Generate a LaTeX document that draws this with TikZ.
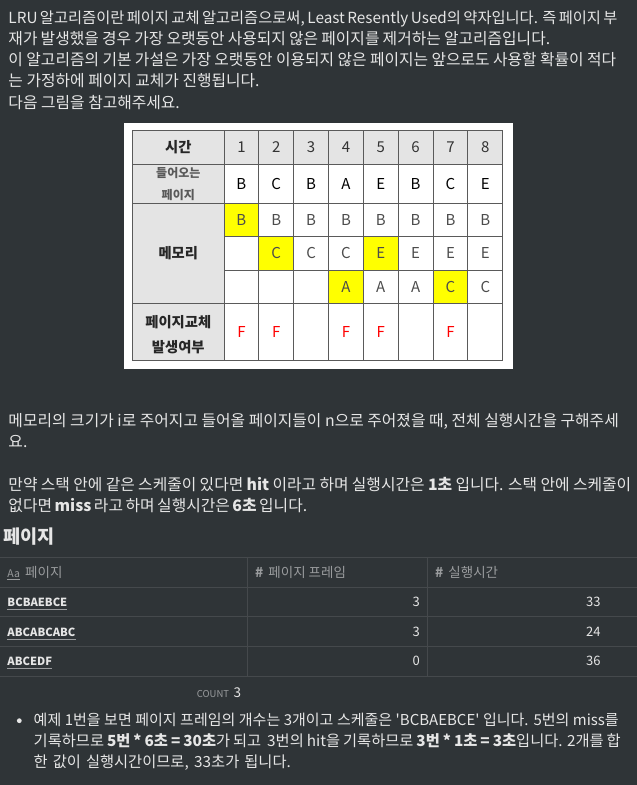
\documentclass[tikz,border=0pt]{standalone}
\usepackage{fontspec}
\setmainfont{Noto Sans CJK KR}
\usepackage{tikz}
\usetikzlibrary{positioning}
\usepackage{xcolor}
\definecolor{pagebg}{HTML}{2F3437}
\definecolor{bodytext}{HTML}{E6E6E6}
\definecolor{dimtext}{HTML}{9A9C9E}
\definecolor{rulegray}{HTML}{45494C}
\definecolor{cellgray}{HTML}{E4E4E4}
\definecolor{hiyellow}{HTML}{FFFF00}
\definecolor{gridgray}{HTML}{5A5A5A}
% one wrapped line of body text, spread to the width it has on screen
\newcommand{\fitline}[2]{\makebox[#1pt][s]{#2}}

\begin{document}
\begin{tikzpicture}[x=1pt, y=-1pt,
    para/.style={anchor=base west, align=left, inner sep=0pt, text=bodytext, font=\fontsize{15.8}{21.25}\selectfont},
    heading/.style={anchor=base west, inner sep=0pt, text=bodytext, font=\fontsize{18.6}{20}\selectfont\bfseries},
    colhead/.style={anchor=base west, inner sep=0pt, text=dimtext, font=\fontsize{13.5}{14}\selectfont},
    pagename/.style={anchor=base west, inner sep=0pt, text=bodytext, font=\fontsize{11.2}{14}\selectfont\bfseries},
    numval/.style={anchor=base east, inner sep=0pt, text=bodytext, font=\fontsize{13}{14}\selectfont},
    rowline/.style={draw=rulegray, line width=1pt},
    namerule/.style={draw=dimtext, line width=0.8pt},
    gridline/.style={draw=gridgray, line width=1pt},
    lbl/.style={inner sep=0pt, align=center, text=black!85, font=\fontsize{14.3}{25}\selectfont\bfseries},
    smalllbl/.style={inner sep=0pt, align=center, text=black!65, font=\fontsize{12}{22.5}\selectfont\bfseries},
    tnum/.style={inner sep=0pt, text=black!80, font=\fontsize{15}{16}\selectfont},
    inpage/.style={inner sep=0pt, text=black, font=\fontsize{15}{16}\selectfont},
    mempage/.style={inner sep=0pt, text=black!70, font=\fontsize{15}{16}\selectfont},
    fault/.style={inner sep=0pt, text=red, font=\fontsize{15}{16}\selectfont}]

\useasboundingbox[fill=pagebg] (0,0) rectangle (637,785);

% intro text (base anchor = last line)
\node[para] (intro) at (8.3,108) {\fitline{609}{\fontsize{15.3}{21.25}\selectfont LRU 알고리즘이란 페이지 교체 알고리즘으로써, Least Resently Used의 약자입니다. 즉 페이지 부}\\
\fitline{541.7}{재가 발생했을 경우 가장 오랫동안 사용되지 않은 페이지를 제거하는 알고리즘입니다.}\\
\fitline{607.7}{이 알고리즘의 기본 가설은 가장 오랫동안 이용되지 않은 페이지는 앞으로도 사용할 확률이 적다}\\
는 가정하에 페이지 교체가 진행됩니다.\\
다음 그림을 참고해주세요.};

% LRU picture
\fill[white] (124,123) rectangle (512.7,369.3);
\fill[cellgray] (132.7,130) rectangle (502.7,164);
\fill[cellgray] (132.7,164) rectangle (224,360.7);
\foreach \c/\r in {1/1, 2/2, 4/3, 5/2, 7/3}
    \fill[hiyellow] ({224+34.84*(\c-1)},{203.3+33.35*(\r-1)}) rectangle ++(34.84,33.35);
\draw[gridline] (132.7,130) rectangle (502.7,360.7);
\foreach \y in {164,203.3,303.3} \draw[gridline] (132.7,\y) -- (502.7,\y);
\foreach \y in {236.7,270} \draw[gridline] (224,\y) -- (502.7,\y);
\draw[gridline] (224,130) -- (224,360.7);
\foreach \k in {1,...,7} \draw[gridline] ({224+34.84*\k},130) -- ({224+34.84*\k},360.7);

\node[lbl] (time) at (178.3,147.5) {시간};
\node[smalllbl] (incoming) at (178.3,183.8) {들어오는\\페이지};
\node[lbl] (memory) at (178.3,253.5) {메모리};
\node[lbl] (replace) at (178.3,334.2) {페이지교체\\발생여부};
\foreach \i in {1,...,8} \node[tnum] (t\i) at ({224+34.84*(\i-0.5)},147.5) {\i};
\foreach \p [count=\i] in {B,C,B,A,E,B,C,E} \node[inpage] (in\i) at ({224+34.84*(\i-0.5)},183.5) {\p};
\foreach \p [count=\i] in {B,B,B,B,B,B,B,B} \node[mempage] (ma\i) at ({224+34.84*(\i-0.5)},220) {\p};
\foreach \p [count=\i] in {{},C,C,C,E,E,E,E} \node[mempage] (mb\i) at ({224+34.84*(\i-0.5)},253.4) {\p};
\foreach \p [count=\i] in {{},{},{},A,A,A,C,C} \node[mempage] (mc\i) at ({224+34.84*(\i-0.5)},286.7) {\p};
\foreach \p [count=\i] in {F,F,{},F,F,{},F,{}} \node[fault] (f\i) at ({224+34.84*(\i-0.5)},332) {\p};

% question text
\node[para] (question) at (8.3,447.3) {\fitline{610.3}{메모리의 크기가 i로 주어지고 들어올 페이지들이 n으로 주어졌을 때, 전체 실행시간을 구해주세}\\
요.};
\node[para] (rule) at (8.3,511.8) {\fitline{622.7}{만약 스택 안에 같은 스케줄이 있다면 \textbf{hit} 이라고 하며 실행시간은 \textbf{1초} 입니다. 스택 안에 스케줄이}\\
\fitline{298.7}{없다면 \textbf{miss} 라고 하며 실행시간은 \textbf{6초} 입니다.}};

% page table
\node[heading] (title) at (3,543) {페이지};
\foreach \y in {557.3,587.3,616.7,646.7,676.7} \draw[rowline] (0,\y) -- (637,\y);
\draw[rowline] (247.3,557.3) -- (247.3,676.7);
\draw[rowline] (427.7,557.3) -- (427.7,676.7);
\node[colhead, font=\fontsize{10.5}{12}\selectfont] (aa) at (7.3,577.3) {\underline{Aa}};
\node[colhead] (hpage) at (25,577.8) {페이지};
\node[colhead] (hframe) at (255,577.8) {\textbf{\#}\hspace{5pt}페이지 프레임};
\node[colhead] (htime) at (435,577.8) {\textbf{\#}\hspace{5pt}실행시간};
\foreach \n/\f/\t/\y [count=\i] in {BCBAEBCE/3/33/606, ABCABCABC/3/24/636, ABCEDF/0/36/665.5} {
    \node[pagename] (name\i) at (7.3,\y) {\n};
    \draw[namerule] ([yshift=-3pt]name\i.base west) -- ([yshift=-3pt]name\i.base east);
    \node[numval] (frame\i) at (420,\y) {\f};
    \node[numval] (run\i) at (600.7,\y) {\t};
}
\node[anchor=base west, inner sep=0pt, text=dimtext, font=\fontsize{9.5}{10}\selectfont] (count) at (196.7,697.5) {COUNT};
\node[inner sep=0pt, text=bodytext, font=\fontsize{13.5}{14}\selectfont, right=4pt of count.base east, anchor=base west] (countval) {3};

% example note (base anchor = last line)
\fill[bodytext] (19.3,720.7) circle (2.4);
\node[para, font=\fontsize{15.3}{21}\selectfont] (note) at (33.5,767.5) {\fitline{585.1}{\fontsize{15}{21}\selectfont 예제 1번을 보면 페이지 프레임의 개수는 3개이고 스케줄은 \textquotesingle BCBAEBCE\textquotesingle{} 입니다. 5번의 miss를}\\
\fitline{587.1}{기록하므로 \textbf{5번 * 6초 = 30초}가 되고\ \ 3번의 hit을 기록하므로 \textbf{3번 * 1초 = 3초}입니다. 2개를 합}\\
\fitline{257.2}{한 값이 실행시간이므로, 33초가 됩니다.}};
\end{tikzpicture}
\end{document}
